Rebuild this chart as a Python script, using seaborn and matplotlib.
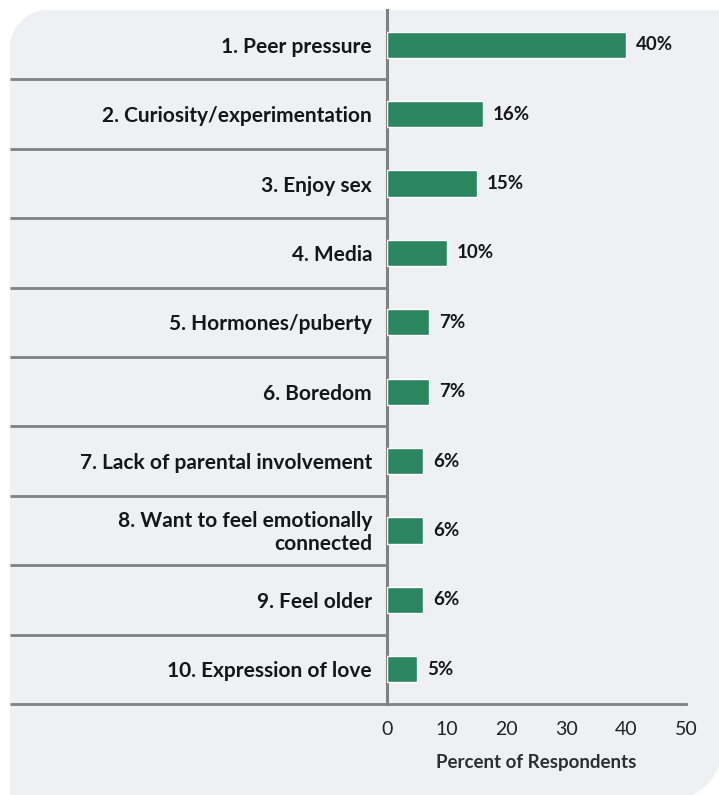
import matplotlib
matplotlib.use("Agg")
import matplotlib.pyplot as plt
from matplotlib.path import Path
from matplotlib.patches import PathPatch
from matplotlib.transforms import blended_transform_factory
import seaborn as sns
import pandas as pd
import numpy as np

reasons = [
    "1. Peer pressure",
    "2. Curiosity/experimentation",
    "3. Enjoy sex",
    "4. Media",
    "5. Hormones/puberty",
    "6. Boredom",
    "7. Lack of parental involvement",
    "8. Want to feel emotionally\nconnected",
    "9. Feel older",
    "10. Expression of love",
]
percents = [40, 16, 15, 10, 7, 7, 6, 6, 6, 5]
x_ticks = [0, 10, 20, 30, 40, 50]

df = pd.DataFrame({"reason": reasons, "percent": percents})

sns.set_theme(style="white")
plt.rcParams["font.family"] = ["Lato", "DejaVu Sans"]

W, H, DPI = 719, 795, 100
fig = plt.figure(figsize=(W / DPI, H / DPI), dpi=DPI)
fig.patch.set_facecolor("white")

# Background panel with rounded top-left and bottom-right corners (pixel coords, y down)
panel_bg = "#eff0f4"
def px(x, y):
    return (x, H - y)

L, T, R, B = 10, 10, 722, 800
r1, r2 = 38, 52
k = 0.5523
verts = [
    px(L, B), px(L, T + r1),
    px(L, T + r1 - k * r1), px(L + r1 - k * r1, T), px(L + r1, T),
    px(R, T), px(R, B - r2),
    px(R, B - r2 + k * r2), px(R - r2 + k * r2, B), px(R - r2, B),
    px(L, B), px(L, B),
]
codes = [Path.MOVETO, Path.LINETO,
         Path.CURVE4, Path.CURVE4, Path.CURVE4,
         Path.LINETO, Path.LINETO,
         Path.CURVE4, Path.CURVE4, Path.CURVE4,
         Path.LINETO, Path.CLOSEPOLY]
panel = PathPatch(Path(verts, codes), facecolor=panel_bg, edgecolor="none",
                  transform=None, zorder=-10)
fig.patches.append(panel)

ax_left, ax_right, ax_top, ax_bottom = 387, 686, 10, 704
ax = fig.add_axes([ax_left / W, 1 - ax_bottom / H,
                   (ax_right - ax_left) / W, (ax_bottom - ax_top) / H])
ax.set_facecolor("none")
ax.set_zorder(5)

green = "#2a8560"
grey = "#808080"
text_col = "#161616"

sns.barplot(data=df, x="percent", y="reason", orient="h", color=green,
            width=0.38, saturation=1, ax=ax, zorder=3)

ax.set_xlim(0, 50)
ax.set_ylim(len(reasons) - 0.5, -0.5)
ax.set_xticks(x_ticks)
ax.set_xticklabels([str(t) for t in x_ticks], fontsize=14, color="#222222")
ax.set_yticks([])
ax.set_ylabel("")
ax.set_xlabel("Percent of Respondents", fontsize=13.5, fontweight="bold",
              color="#2e2e2e", labelpad=12)
ax.tick_params(axis="x", direction="out", length=5, width=1.2, color=grey, pad=7)

for side in ["top", "right"]:
    ax.spines[side].set_visible(False)
ax.spines["left"].set_color(grey)
ax.spines["left"].set_linewidth(2.2)
ax.spines["bottom"].set_color(grey)
ax.spines["bottom"].set_linewidth(2.0)

# Category separators extending left to the panel edge
left_frac = -(ax_left - L) / (ax_right - ax_left)
trans = blended_transform_factory(ax.transAxes, ax.transData)
for i in range(len(reasons)):
    ax.plot([left_frac, 0], [i + 0.5, i + 0.5], color=grey, lw=2.0,
            transform=trans, clip_on=False, zorder=2, solid_capstyle="butt")

# Category labels, right-aligned against the axis
label_off = -(15 / (ax_right - ax_left))
for i, name in enumerate(reasons):
    ax.text(label_off, i + 0.03, name, transform=trans, ha="right", va="center",
            fontsize=15, fontweight="bold", color=text_col, linespacing=1.15)

# Value labels
for i, v in enumerate(percents):
    ax.text(v + 1.7, i, f"{v}%", ha="left", va="center", fontsize=13.5,
            fontweight="bold", color=text_col)

fig.savefig("out.png", dpi=DPI, facecolor="white")
